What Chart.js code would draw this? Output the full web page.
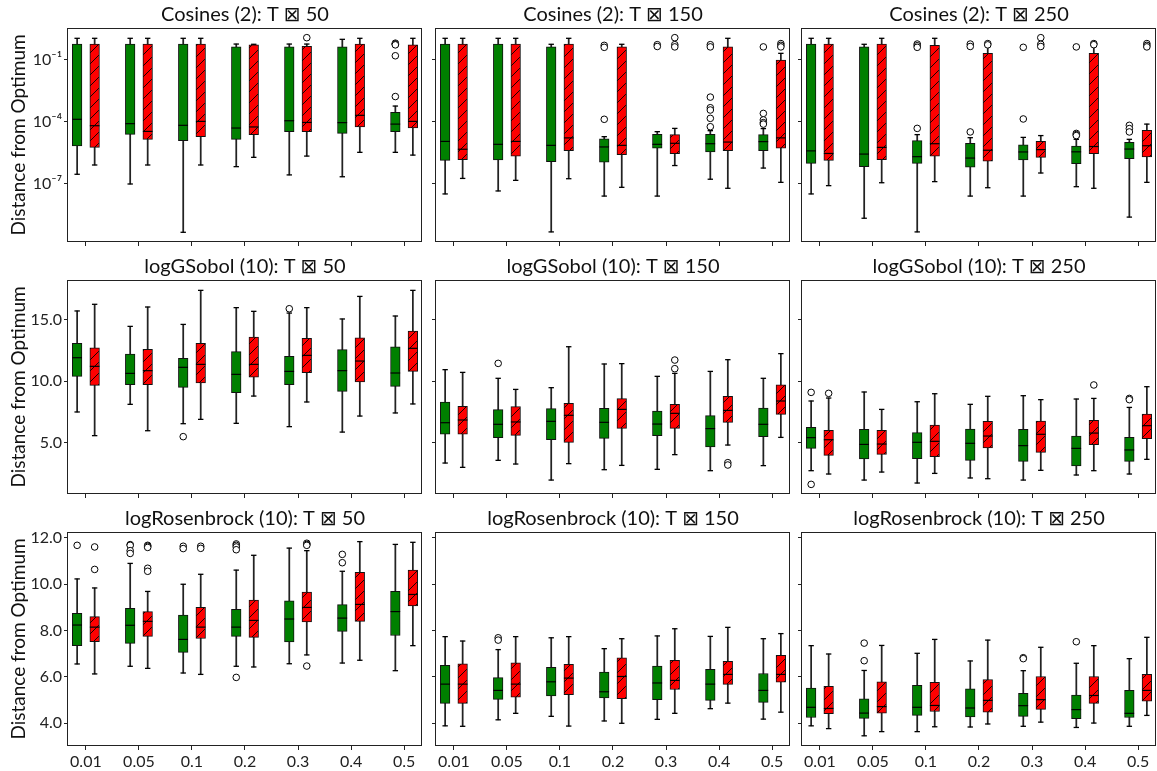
<!DOCTYPE html>
<html>
<head>
<meta charset="utf-8">
<script src="https://cdn.jsdelivr.net/npm/chart.js@4.4.1/dist/chart.umd.min.js"></script>
<style>
  html, body { margin: 0; padding: 0; background: #fff; }
  body { position: relative; width: 1157px; height: 771px; overflow: hidden; }
  canvas { position: absolute; }
</style>
</head>
<body>
<script>
// Mutation-rate settings on the x axis
const steps = ['0.01', '0.05', '0.1', '0.2', '0.3', '0.4', '0.5'];

// Each box: [lower whisker, Q1, median, Q3, upper whisker]; outliers listed per step.

// Cosines (2), T 50
const cos50Green = [[2.95e-7, 6.9e-6, 1.35e-4, 0.59, 1.12], [1.0e-7, 2.5e-5, 8.3e-5, 0.59, 1.12], [4.6e-10, 1.26e-5, 6.9e-5, 0.59, 1.12], [6.9e-7, 1.45e-5, 5.1e-5, 0.43, 0.59], [2.75e-7, 3.4e-5, 1.15e-4, 0.43, 0.59], [2.24e-7, 2.8e-5, 9.3e-5, 0.43, 1.0], [3.4e-6, 3.4e-5, 7.9e-5, 2.95e-4, 5.9e-4]];
const cos50GreenOut = [[], [], [], [], [], [], [0.65, 0.6, 0.57, 0.54, 0.16, 1.7e-3]];
const cos50Red = [[8.3e-7, 5.9e-6, 6.6e-5, 0.59, 1.12], [8.3e-7, 1.45e-5, 3.5e-5, 0.59, 1.12], [8.3e-7, 1.95e-5, 1.07e-4, 0.59, 1.12], [1.95e-6, 2.45e-5, 5.75e-5, 0.54, 0.575], [2.24e-6, 3.4e-5, 9.5e-5, 0.46, 0.59], [3.4e-6, 5.75e-5, 2.1e-4, 0.59, 1.12], [2.5e-6, 5.1e-5, 1.07e-4, 0.54, 1.12]];
const cos50RedOut = [[], [], [], [], [1.2], [], []];

// Cosines (2), T 150
const cos150Green = [[3.3e-8, 1.4e-6, 1.15e-5, 0.59, 1.12], [4.6e-8, 1.45e-6, 8.3e-6, 0.59, 1.12], [4.8e-10, 1.2e-6, 7.4e-6, 0.43, 0.575], [2.6e-8, 1.15e-6, 6.2e-6, 1.55e-5, 1.95e-5], [2.6e-8, 5.4e-6, 8.3e-6, 2.5e-5, 3.4e-5], [1.7e-7, 3.55e-6, 8.9e-6, 2.5e-5, 3.8e-5], [5.9e-7, 4.1e-6, 1.12e-5, 2.45e-5, 4.8e-5]];
const cos150GreenOut = [[], [], [], [0.51, 0.41, 1.35e-4], [0.55, 0.45], [0.55, 0.43, 1.6e-3, 4.9e-4, 3.8e-4, 1.5e-4, 5.9e-5], [0.43, 2.6e-4, 1.26e-4, 9.3e-5, 7.9e-5]];
const cos150Red = [[1.86e-7, 1.5e-6, 4.8e-6, 0.59, 1.12], [1.5e-7, 2.2e-6, 1.15e-5, 0.59, 1.12], [1.8e-7, 4.1e-6, 1.7e-5, 0.59, 1.12], [6.9e-8, 2.6e-6, 7.4e-6, 0.43, 0.575], [7.8e-7, 2.95e-6, 9.3e-6, 2.45e-5, 4.9e-5], [6.2e-8, 4.1e-6, 1.07e-5, 0.43, 1.12], [1.2e-7, 5.4e-6, 1.7e-5, 0.1, 0.21]];
const cos150RedOut = [[], [], [], [], [1.2, 0.55, 0.43], [], [0.62, 0.51, 0.43]];

// Cosines (2), T 250
const cos250Green = [[3.3e-8, 1.0e-6, 4.0e-6, 0.59, 1.12], [2.2e-9, 6.9e-7, 2.8e-6, 0.43, 0.575], [4.8e-10, 1.0e-6, 2.1e-6, 1.26e-5, 2.45e-5], [2.6e-8, 6.5e-7, 1.8e-6, 9.3e-6, 1.74e-5], [2.6e-8, 1.45e-6, 3.55e-6, 7.8e-6, 1.8e-5], [7.4e-8, 9.5e-7, 3.6e-6, 6.9e-6, 1.45e-5], [2.5e-9, 1.7e-6, 4.9e-6, 1.05e-5, 1.45e-5]];
const cos250GreenOut = [[], [], [0.59, 0.49, 0.41, 4.9e-5], [0.59, 0.45, 3.3e-5], [0.41, 1.4e-4], [0.43, 2.8e-5, 2.45e-5, 2.2e-5], [6.9e-5, 4.8e-5, 3.3e-5]];
const cos250Red = [[8.3e-8, 1.4e-6, 3.0e-6, 0.59, 1.12], [1.15e-7, 1.5e-6, 5.9e-6, 0.59, 1.12], [1.3e-7, 2.2e-6, 8.9e-6, 0.51, 1.12], [6.6e-8, 1.26e-6, 4.3e-6, 0.21, 0.45], [3.4e-7, 1.95e-6, 4.6e-6, 1.15e-5, 2.2e-5], [6.2e-8, 2.95e-6, 6.5e-6, 0.21, 0.45], [1.2e-7, 2.05e-6, 7.1e-6, 4.0e-5, 7.9e-5]];
const cos250RedOut = [[], [], [], [0.62, 0.54], [1.2, 0.575, 0.45], [0.62, 0.55], [0.62, 0.51, 0.43]];

// logGSobol (10), T 50
const gs50Green = [[7.49, 10.38, 11.89, 13.05, 15.68], [8.11, 9.70, 10.62, 12.19, 14.43], [6.54, 9.49, 11.11, 11.84, 14.59], [6.57, 9.05, 10.54, 12.38, 15.95], [6.30, 9.70, 10.78, 12.0, 15.51], [5.86, 9.16, 10.84, 12.54, 15.03], [7.41, 9.57, 10.65, 12.78, 15.27]];
const gs50GreenOut = [[], [], [5.49], [], [15.86], [], []];
const gs50Red = [[5.57, 9.65, 11.19, 12.70, 16.22], [5.97, 9.70, 10.84, 12.57, 16.0], [6.89, 9.84, 11.35, 13.05, 17.35], [8.78, 10.32, 11.35, 13.57, 15.65], [8.30, 10.68, 12.08, 13.46, 15.95], [7.16, 9.92, 11.62, 13.51, 16.86], [8.14, 10.78, 12.65, 14.05, 17.35]];
const gs50RedOut = [[], [], [], [], [], [], []];

// logGSobol (10), T 150
const gs150Green = [[3.35, 5.70, 6.62, 8.30, 10.92], [3.57, 5.41, 6.49, 7.68, 10.22], [1.97, 5.24, 6.73, 7.76, 9.46], [2.81, 5.35, 6.65, 7.78, 11.38], [2.84, 5.57, 6.51, 7.57, 10.38], [2.73, 4.65, 6.14, 7.19, 10.78], [3.14, 5.49, 6.49, 7.81, 10.22]];
const gs150GreenOut = [[], [11.43], [], [], [], [], []];
const gs150Red = [[3.0, 5.70, 6.84, 7.95, 10.70], [3.27, 5.59, 6.68, 7.92, 9.32], [3.30, 5.03, 7.22, 8.19, 12.78], [3.16, 6.16, 7.70, 8.57, 11.41], [4.03, 6.16, 7.38, 8.11, 10.62], [4.81, 6.65, 7.62, 8.76, 11.73], [5.43, 7.30, 8.38, 9.70, 12.22]];
const gs150RedOut = [[], [], [], [], [11.70, 11.0], [3.38, 3.19], []];

// logGSobol (10), T 250
const gs250Green = [[2.73, 4.54, 5.41, 6.24, 8.38], [1.97, 3.68, 4.86, 6.08, 9.11], [1.73, 3.70, 5.03, 5.81, 8.32], [2.14, 3.57, 4.95, 6.11, 8.11], [1.97, 3.49, 4.76, 6.08, 8.81], [2.38, 3.11, 4.54, 5.54, 8.54], [2.46, 3.49, 4.41, 5.43, 7.86]];
const gs250GreenOut = [[9.08, 1.62], [], [], [], [], [], [8.59, 8.49]];
const gs250Red = [[2.46, 3.97, 5.24, 6.0, 8.62], [2.62, 4.05, 4.89, 6.0, 7.70], [2.51, 3.86, 5.11, 6.43, 8.97], [2.08, 4.57, 5.54, 6.73, 8.76], [2.76, 4.22, 5.68, 6.76, 8.49], [2.73, 4.84, 5.78, 6.81, 8.59], [3.65, 5.32, 6.38, 7.32, 9.54]];
const gs250RedOut = [[9.0], [], [], [], [], [9.68], []];

// logRosenbrock (10), T 50
const rb50Green = [[6.55, 7.34, 8.23, 8.73, 10.22], [6.45, 7.44, 8.22, 8.95, 10.89], [6.16, 7.05, 7.61, 8.66, 9.99], [6.45, 7.74, 8.14, 8.91, 10.60], [6.56, 7.50, 8.49, 9.27, 11.55], [6.59, 7.96, 8.53, 9.11, 10.55], [6.26, 7.78, 8.81, 9.68, 11.71]];
const rb50GreenOut = [[11.67], [11.70, 11.67, 11.44, 11.32], [11.63, 11.53], [11.73, 11.67, 11.60, 11.48, 5.97], [], [11.28, 10.92], []];
const rb50Red = [[6.12, 7.51, 8.14, 8.59, 9.83], [6.36, 7.74, 8.39, 8.81, 9.68], [6.10, 7.65, 8.14, 8.99, 10.42], [6.42, 7.70, 8.43, 9.31, 11.24], [6.94, 8.36, 8.99, 9.65, 11.44], [6.71, 8.39, 9.12, 10.50, 11.83], [7.34, 9.06, 9.55, 10.60, 11.80]];
const rb50RedOut = [[11.60, 10.63], [11.67, 11.63, 11.58, 10.68, 10.55], [11.63, 11.54], [], [11.76, 11.71, 11.67, 6.46], [], []];

// logRosenbrock (10), T 150
const rb150Green = [[3.88, 4.85, 5.68, 6.49, 7.73], [4.14, 5.02, 5.41, 5.96, 7.17], [4.29, 5.17, 5.78, 6.40, 7.68], [4.09, 5.09, 5.35, 6.20, 7.21], [4.16, 5.01, 5.73, 6.46, 7.76], [4.62, 4.98, 5.68, 6.32, 7.74], [4.17, 4.89, 5.41, 6.14, 7.64]];
const rb150GreenOut = [[], [7.68, 7.58], [], [], [], [], []];
const rb150Red = [[3.86, 4.85, 5.68, 6.56, 7.54], [4.42, 5.12, 5.68, 6.60, 7.73], [3.87, 5.22, 5.94, 6.53, 7.73], [3.99, 5.05, 6.01, 6.81, 7.64], [4.42, 5.45, 5.84, 6.71, 8.07], [4.86, 5.67, 6.10, 6.66, 8.13], [4.47, 5.76, 6.10, 6.92, 7.86]];
const rb150RedOut = [[], [], [], [], [], [], []];

// logRosenbrock (10), T 250
const rb250Green = [[3.88, 4.24, 4.68, 5.51, 7.34], [3.45, 4.20, 4.43, 5.05, 6.27], [3.63, 4.33, 4.68, 5.63, 7.01], [3.83, 4.27, 4.65, 5.48, 6.68], [3.86, 4.29, 4.75, 5.28, 6.26], [3.81, 4.19, 4.58, 5.21, 6.58], [3.86, 4.24, 4.42, 5.41, 6.78]];
const rb250GreenOut = [[], [7.45, 6.69], [], [], [6.82, 6.78], [7.51], []];
const rb250Red = [[3.76, 4.40, 4.63, 5.58, 6.98], [3.63, 4.43, 4.71, 5.78, 7.35], [3.84, 4.50, 4.76, 5.76, 7.61], [3.96, 4.47, 4.98, 5.88, 7.58], [4.04, 4.59, 5.01, 6.01, 7.27], [4.0, 4.85, 5.19, 6.01, 7.34], [4.33, 4.94, 5.41, 6.10, 7.70]];
const rb250RedOut = [[], [], [], [], [], [], []];

// y-axis tick values and labels per row
const cosTicks = [1e-7, 1e-4, 1e-1];
const cosTickLabels = ['10\u207B\u2077', '10\u207B\u2074', '10\u207B\u00B9'];
const gsTicks = [5, 10, 15];
const gsTickLabels = ['5.0', '10.0', '15.0'];
const rbTicks = [4, 6, 8, 10, 12];
const rbTickLabels = ['4.0', '6.0', '8.0', '10.0', '12.0'];

const yAxes = {
  cos: { type: 'logarithmic', min: 1.56e-10, max: 3.53, ticks: cosTicks, labels: cosTickLabels },
  gs:  { type: 'linear', min: 0.84, max: 18.19, ticks: gsTicks, labels: gsTickLabels },
  rb:  { type: 'linear', min: 3.01, max: 12.245, ticks: rbTicks, labels: rbTickLabels }
};

const panels = [
  { title: 'Cosines (2): T \u22A0 50',  axis: 'cos', green: cos50Green,  greenOut: cos50GreenOut,  red: cos50Red,  redOut: cos50RedOut },
  { title: 'Cosines (2): T \u22A0 150', axis: 'cos', green: cos150Green, greenOut: cos150GreenOut, red: cos150Red, redOut: cos150RedOut },
  { title: 'Cosines (2): T \u22A0 250', axis: 'cos', green: cos250Green, greenOut: cos250GreenOut, red: cos250Red, redOut: cos250RedOut },
  { title: 'logGSobol (10): T \u22A0 50',  axis: 'gs', green: gs50Green,  greenOut: gs50GreenOut,  red: gs50Red,  redOut: gs50RedOut },
  { title: 'logGSobol (10): T \u22A0 150', axis: 'gs', green: gs150Green, greenOut: gs150GreenOut, red: gs150Red, redOut: gs150RedOut },
  { title: 'logGSobol (10): T \u22A0 250', axis: 'gs', green: gs250Green, greenOut: gs250GreenOut, red: gs250Red, redOut: gs250RedOut },
  { title: 'logRosenbrock (10): T \u22A0 50',  axis: 'rb', green: rb50Green,  greenOut: rb50GreenOut,  red: rb50Red,  redOut: rb50RedOut },
  { title: 'logRosenbrock (10): T \u22A0 150', axis: 'rb', green: rb150Green, greenOut: rb150GreenOut, red: rb150Red, redOut: rb150RedOut },
  { title: 'logRosenbrock (10): T \u22A0 250', axis: 'rb', green: rb250Green, greenOut: rb250GreenOut, red: rb250Red, redOut: rb250RedOut }
];

Chart.defaults.font.family = "Lato, 'DejaVu Sans', sans-serif";
Chart.defaults.color = '#222';

// Red fill with "/" hatching
function hatchPattern() {
  const s = 11;
  const c = document.createElement('canvas');
  c.width = s; c.height = s;
  const g = c.getContext('2d');
  g.fillStyle = '#ff0000';
  g.fillRect(0, 0, s, s);
  g.strokeStyle = '#1a0000';
  g.lineWidth = 1;
  g.beginPath();
  g.moveTo(-1, 1); g.lineTo(1, -1);
  g.moveTo(0, s); g.lineTo(s, 0);
  g.moveTo(s - 1, s + 1); g.lineTo(s + 1, s - 1);
  g.stroke();
  return g.createPattern(c, 'repeat');
}
const redFill = hatchPattern();
const greenFill = '#008000';

// Frame around the plotting area; the right edge is kept inside the page
const PAGE_WIDTH = 1157;
const framePlugin = {
  id: 'frame',
  afterDatasetsDraw(chart) {
    const a = chart.chartArea, ctx = chart.ctx;
    const pageLeft = parseFloat(chart.canvas.style.left) || 0;
    const left = Math.round(a.left) - 0.5;
    const right = Math.min(Math.round(a.right) - 0.5, PAGE_WIDTH - pageLeft - 0.5);
    const top = Math.round(a.top) + 0.5;
    const bottom = Math.round(a.bottom) - 0.5;
    ctx.save();
    ctx.strokeStyle = '#222';
    ctx.lineWidth = 1;
    ctx.strokeRect(left, top, right - left, bottom - top);
    ctx.restore();
  }
};

// Datasets that make up one series of boxes
function seriesDatasets(stats, outs, off, fill) {
  const at = i => i + off;
  return [
    { type: 'bar', data: stats.map((b, i) => ({ x: at(i), y: [b[0], b[4]] })),
      backgroundColor: '#222', borderWidth: 0, barThickness: 1.1, grouped: false, order: 4 },
    { type: 'bar', data: stats.map((b, i) => ({ x: at(i), y: [b[1], b[3]] })),
      backgroundColor: fill, borderColor: '#111', borderWidth: 1, borderSkipped: false,
      barThickness: 9.6, grouped: false, order: 3 },
    { type: 'scatter', data: stats.map((b, i) => ({ x: at(i), y: b[2] })),
      pointStyle: 'line', pointRadius: 4.8, pointBorderColor: '#000', pointBorderWidth: 1.2,
      borderColor: '#000', order: 2 },
    { type: 'scatter', data: stats.flatMap((b, i) => [{ x: at(i), y: b[0] }, { x: at(i), y: b[4] }]),
      pointStyle: 'line', pointRadius: 2.7, pointBorderColor: '#000', pointBorderWidth: 1.3,
      borderColor: '#000', order: 2 },
    { type: 'scatter', data: outs.flatMap((vals, i) => vals.map(v => ({ x: at(i), y: v }))),
      pointStyle: 'circle', pointRadius: 3.3, pointBackgroundColor: '#fff',
      pointBorderColor: '#000', pointBorderWidth: 1, borderColor: '#000', order: 1 }
  ];
}

const colLeft = [0, 368, 734];
const rowTop = [0, 252, 504];

panels.forEach((p, k) => {
  const r = Math.floor(k / 3), c = k % 3;
  const ya = yAxes[p.axis];
  const cv = document.createElement('canvas');
  cv.width = 428;
  cv.height = 270;
  cv.style.left = colLeft[c] + 'px';
  cv.style.top = rowTop[r] + 'px';
  cv.style.width = cv.width + 'px';
  cv.style.height = cv.height + 'px';
  document.body.appendChild(cv);

  new Chart(cv, {
    type: 'bar',
    data: {
      datasets: [
        ...seriesDatasets(p.green, p.greenOut, -0.165, greenFill),
        ...seriesDatasets(p.red, p.redOut, 0.165, redFill)
      ]
    },
    options: {
      responsive: false,
      animation: false,
      events: [],
      layout: { padding: { right: 4 } },
      plugins: {
        legend: { display: false },
        tooltip: { enabled: false },
        title: {
          display: true, text: p.title, fullSize: false, color: '#111',
          font: { size: 20, weight: 'normal' }, padding: { top: 3, bottom: 1 }
        }
      },
      scales: {
        x: {
          type: 'linear', min: -0.3375, max: 6.3375, offset: false,
          grid: { offset: false, drawOnChartArea: false, drawTicks: true, tickLength: 4, color: '#222' },
          border: { display: false },
          afterBuildTicks: s => { s.ticks = steps.map((_, i) => ({ value: i })); },
          afterFit: s => { s.height = 28; },
          ticks: {
            display: r === 2, autoSkip: false, maxRotation: 0, padding: 2,
            font: { size: 16 }, color: '#222',
            callback: (v, i) => steps[i]
          }
        },
        y: {
          type: ya.type, min: ya.min, max: ya.max,
          grid: { drawOnChartArea: false, drawTicks: true, tickLength: 4, color: '#222' },
          border: { display: false },
          afterBuildTicks: s => { s.ticks = ya.ticks.map(v => ({ value: v })); },
          afterFit: s => { s.width = 68; },
          ticks: {
            display: c === 0, padding: 2, font: { size: 16 }, color: '#222',
            callback: (v, i) => ya.labels[i]
          },
          title: {
            display: c === 0, text: 'Distance from Optimum', color: '#111',
            font: { size: 19 }, padding: { top: 7, bottom: 0 }
          }
        }
      }
    },
    plugins: [framePlugin]
  });
});
</script>
</body>
</html>
